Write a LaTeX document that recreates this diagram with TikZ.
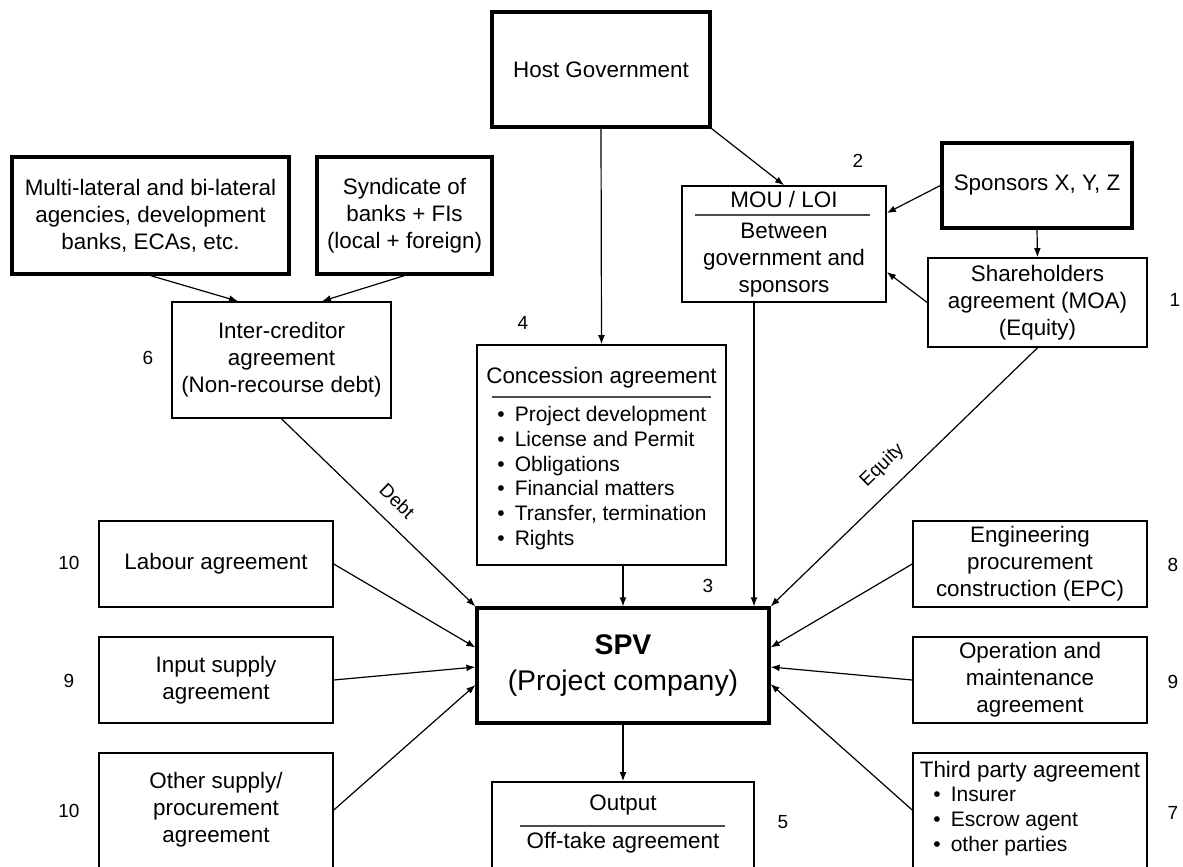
\documentclass[tikz,border=0pt]{standalone}
\usepackage{fontspec}
\setmainfont{Liberation Sans}
\usetikzlibrary{arrows.meta,calc}

\newcommand{\txtfont}{\fontsize{11.2}{13.5}\selectfont}
\newcommand{\numfont}{\fontsize{9.5}{11}\selectfont}

\begin{document}
\begin{tikzpicture}[
  x=0.5pt, y=-0.5pt,
  box/.style={draw, line width=0.8pt, inner sep=0pt, align=center, font=\txtfont},
  heavybox/.style={box, line width=1.6pt},
  txt/.style={inner sep=0pt, align=center, font=\txtfont},
  bullets/.style={inner sep=0pt, align=left, anchor=west, font=\fontsize{10.5}{12.4}\selectfont},
  num/.style={inner sep=0pt, font=\numfont},
  lbl/.style={inner sep=2pt, font=\numfont},
  sep/.style={line width=0.8pt, black!70},
  arr/.style={-{Latex[length=4.5pt,width=3.4pt]}, line width=0.6pt}
]
  \useasboundingbox (0,0) rectangle (1183,867);
  \clip (0,0) rectangle (1183,867);

  % top row
  \node[heavybox, minimum width=109pt, minimum height=57.5pt] (host) at (601,69.5) {Host Government};
  \node[box, minimum width=102pt, minimum height=58pt] (mou) at (784,244) {MOU / LOI\\[2pt]Between\\government and\\sponsors};
  \draw[sep] (695,215) -- (870,215);
  \node[heavybox, minimum width=95pt, minimum height=42.5pt] (spons) at (1037,185.5) {Sponsors X, Y, Z};
  \node[box, minimum width=109.5pt, minimum height=44.5pt] (share) at (1037.5,302.5) {Shareholders\\agreement (MOA)\\(Equity)};

  % lenders
  \node[heavybox, minimum width=138.5pt, minimum height=58.5pt] (multi) at (150.5,215.5) {Multi-lateral and bi-lateral\\agencies, development\\banks, ECAs, etc.};
  \node[heavybox, minimum width=87.5pt, minimum height=58.5pt] (synd) at (404.5,215.5) {Syndicate of\\banks + FIs\\(local + foreign)};
  \node[box, minimum width=109.5pt, minimum height=58pt] (inter) at (281.5,360) {Inter-creditor\\agreement\\(Non-recourse debt)};

  % concession
  \node[box, minimum width=124.5pt, minimum height=110pt] (conc) at (601.5,455) {};
  \node[txt] (conctitle) at (601.5,378) {Concession agreement};
  \draw[sep] (492,397) -- (711,397);
  \node[bullets] (conclist) at (497,478) {\textbullet\hspace{5pt}Project development\\
    \textbullet\hspace{5pt}License and Permit\\
    \textbullet\hspace{5pt}Obligations\\
    \textbullet\hspace{5pt}Financial matters\\
    \textbullet\hspace{5pt}Transfer, termination\\
    \textbullet\hspace{5pt}Rights};

  % project company
  \node[heavybox, minimum width=146pt, minimum height=57.5pt, font=\fontsize{14.2}{18}\selectfont] (spv) at (623,665.5) {\textbf{SPV}\\(Project company)};

  % output
  \node[box, minimum width=131pt, minimum height=54pt] (out) at (623,836) {};
  \node[txt] (outtitle) at (623,805) {Output};
  \draw[sep] (520,826) -- (725,826);
  \node[txt] (offtake) at (623,843) {Off-take agreement};

  % left column
  \node[box, minimum width=117pt, minimum height=43pt] (labour) at (216,564) {Labour agreement};
  \node[box, minimum width=117pt, minimum height=43pt] (input) at (216,680) {Input supply\\agreement};
  \node[box, minimum width=117pt, minimum height=68.5pt] (other) at (216,821.5) {};
  \node[txt] (othertxt) at (216,810) {Other supply/\\procurement\\agreement};

  % right column
  \node[box, minimum width=117pt, minimum height=43pt] (epc) at (1030,564) {Engineering\\procurement\\construction (EPC)};
  \node[box, minimum width=117pt, minimum height=43pt] (om) at (1030,680) {Operation and\\maintenance\\agreement};
  \node[box, minimum width=117pt, minimum height=68.5pt] (third) at (1030,821.5) {};
  \node[txt] (thirdtitle) at (1030,772) {Third party agreement};
  \node[bullets, font=\fontsize{10.5}{12.3}\selectfont] (thirdlist) at (933,821.5) {\textbullet\hspace{5pt}Insurer\\
    \textbullet\hspace{5pt}Escrow agent\\
    \textbullet\hspace{5pt}other parties};

  % numbers
  \node[num] (n1) at (1175,300) {1};
  \node[num] (n2) at (858,161) {2};
  \node[num] (n3) at (708,586) {3};
  \node[num] (n4) at (523,323) {4};
  \node[num] (n5) at (783,822) {5};
  \node[num] (n6) at (148,358) {6};
  \node[num] (n7) at (1173,813) {7};
  \node[num] (n8) at (1173,565) {8};
  \node[num] (n9) at (1173,682) {9};
  \node[num] (n9b) at (69,681) {9};
  \node[num] (n10) at (69,563) {10};
  \node[num] (n10b) at (69,811) {10};

  % connectors
  \draw[arr] (host.south) -- (conc.north);
  \draw[arr] (host.south east) -- (mou.north);
  \draw[arr] (spons.west) -- ([yshift=15.5pt]mou.east);
  \draw[arr] (spons.south) -- (share.north);
  \draw[arr] (share.west) -- ([yshift=-14pt]mou.east);
  \draw[arr] ([xshift=-15pt]mou.south) -- ([xshift=-15pt]mou.south |- spv.north);
  \draw[arr] (multi.south) -- ([xshift=-21.75pt]inter.north);
  \draw[arr] (synd.south) -- ([xshift=20.25pt]inter.north);
  \draw[arr] (inter.south) -- node[lbl, pos=0.52, sloped, above=5pt] {Debt} (spv.north west);
  \draw[arr] (share.south) -- node[lbl, pos=0.52, sloped, above=5pt] {Equity} (spv.north east);
  \draw[arr] (spv.north |- conc.south) -- (spv.north);
  \draw[arr] (spv.south) -- (out.north);
  \draw[arr] (labour.east) -- ([yshift=9pt]spv.west);
  \draw[arr] (input.east) -- ([yshift=-0.75pt]spv.west);
  \draw[arr] ([yshift=5.75pt]other.east) -- ([yshift=-9.75pt]spv.west);
  \draw[arr] (epc.west) -- ([yshift=9pt]spv.east);
  \draw[arr] (om.west) -- ([yshift=-0.75pt]spv.east);
  \draw[arr] ([yshift=5.75pt]third.west) -- ([yshift=-9.25pt]spv.east);
\end{tikzpicture}
\end{document}
